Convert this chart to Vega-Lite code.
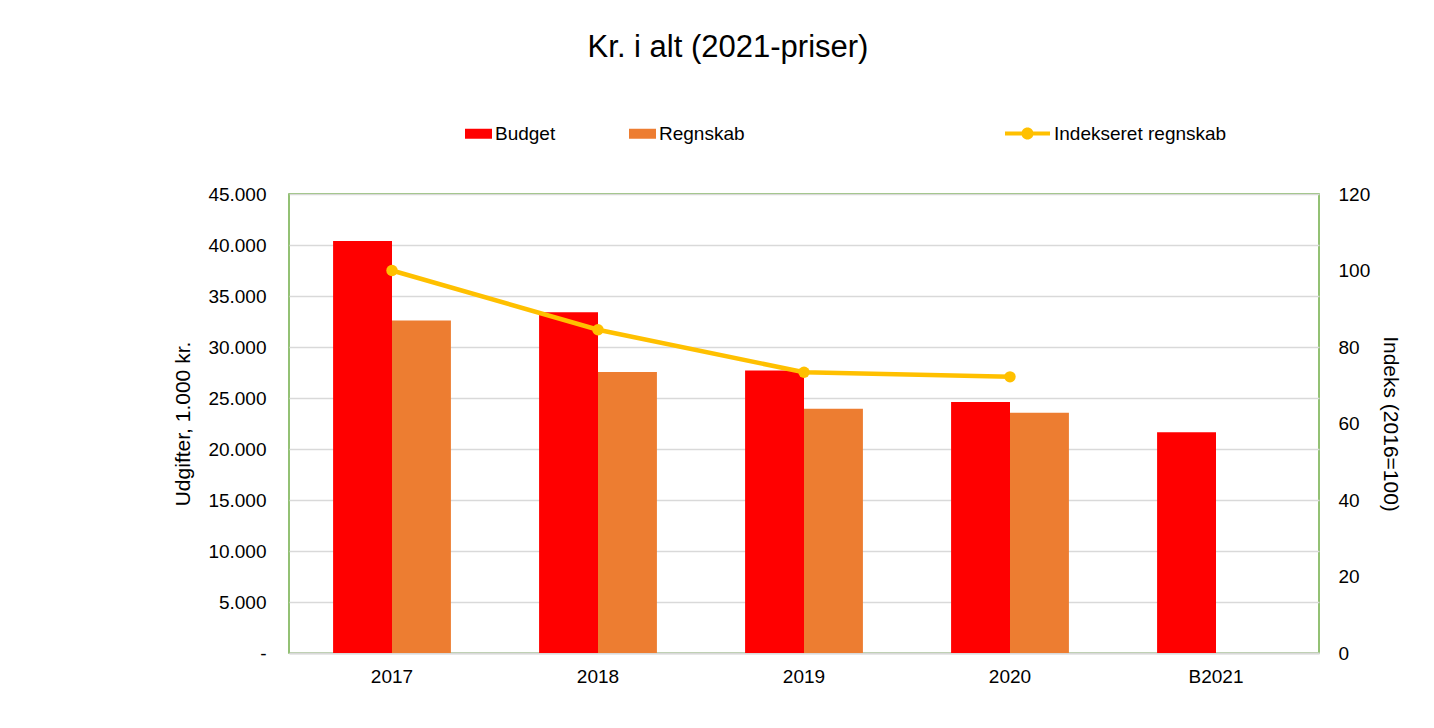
{
  "$schema": "https://vega.github.io/schema/vega-lite/v6.json",
  "width": 1030,
  "height": 459,
  "autosize": {"type": "none"},
  "padding": {"left": 289, "top": 194, "right": 115, "bottom": 75},
  "background": "white",
  "view": {"stroke": "#70AD47", "strokeWidth": 1.5},
  "title": {"text": "Kr. i alt (2021-priser)", "fontSize": 31, "font": "Liberation Sans", "fontWeight": "normal", "color": "#000000", "anchor": "middle", "dx": -76, "offset": 47},
  "config": {
    "font": "Liberation Sans",
    "view": {"stroke": "#70AD47", "strokeWidth": 1.5},
    "axis": {"labelFont": "Liberation Sans", "labelFontSize": 19, "labelColor": "#000000", "titleFont": "Liberation Sans", "titleFontSize": 21, "titleFontWeight": "normal", "titleColor": "#000000", "ticks": false, "domain": false, "grid": false}
  },
  "datasets": {
    "bars": [
      {"aar": "2017", "serie": "Budget", "udg": 40400},
      {"aar": "2017", "serie": "Regnskab", "udg": 32600},
      {"aar": "2018", "serie": "Budget", "udg": 33400},
      {"aar": "2018", "serie": "Regnskab", "udg": 27550},
      {"aar": "2019", "serie": "Budget", "udg": 27700},
      {"aar": "2019", "serie": "Regnskab", "udg": 23950},
      {"aar": "2020", "serie": "Budget", "udg": 24600},
      {"aar": "2020", "serie": "Regnskab", "udg": 23550},
      {"aar": "B2021", "serie": "Budget", "udg": 21650}
    ],
    "indeks": [
      {"aar": "2017", "indeks": 100},
      {"aar": "2018", "indeks": 84.5},
      {"aar": "2019", "indeks": 73.4},
      {"aar": "2020", "indeks": 72.2}
    ]
  },
  "layer": [
    {
      "data": {"name": "bars"},
      "mark": {"type": "bar"},
      "encoding": {
        "x": {"field": "aar", "type": "nominal", "sort": ["2017", "2018", "2019", "2020", "B2021"], "scale": {"paddingInner": 0.428, "paddingOuter": 0.214}, "axis": {"title": null, "labelAngle": 0, "domain": true, "domainColor": "#D9D9D9", "domainWidth": 2, "labelPadding": 14}},
        "xOffset": {"field": "serie", "type": "nominal", "sort": ["Budget", "Regnskab"], "scale": {"paddingInner": 0, "paddingOuter": 0}},
        "y": {"field": "udg", "type": "quantitative", "scale": {"domain": [0, 45000], "nice": false}, "axis": {"title": "Udgifter, 1.000 kr.", "values": [0, 5000, 10000, 15000, 20000, 25000, 30000, 35000, 40000, 45000], "grid": true, "gridColor": "#D9D9D9", "gridWidth": 1.5, "labelPadding": 23, "titlePadding": 14, "labelExpr": "datum.value == 0 ? '-' : replace(format(datum.value, ','), ',', '.')", "encode": {"labels": {"update": {"dx": {"signal": "datum.value == 0 ? -10 : 0"}}}}}},
        "color": {"field": "serie", "type": "nominal", "scale": {"domain": ["Budget", "Regnskab"], "range": ["#FF0000", "#ED7D31"]}, "legend": {"orient": "none", "legendX": 176, "legendY": -74, "direction": "horizontal", "title": null, "symbolType": "M-1,-0.37H1V0.37H-1Z", "symbolSize": 729, "symbolStrokeWidth": 0, "labelFont": "Liberation Sans", "labelFontSize": 19, "labelColor": "#000000", "columnPadding": 73, "labelOffset": 3, "padding": 0}}
      }
    },
    {
      "data": {"name": "indeks"},
      "mark": {"type": "line", "strokeWidth": 4.5, "point": {"filled": true, "size": 130}},
      "encoding": {
        "x": {"field": "aar", "type": "nominal", "sort": ["2017", "2018", "2019", "2020", "B2021"]},
        "y": {"field": "indeks", "type": "quantitative", "scale": {"domain": [0, 120], "nice": false}, "axis": {"orient": "right", "title": "Indeks (2016=100)", "values": [0, 20, 40, 60, 80, 100, 120], "labelPadding": 19, "titlePadding": 10}},
        "color": {"datum": "Indekseret regnskab", "type": "nominal", "scale": {"domain": ["Indekseret regnskab"], "range": ["#FFC000"]}, "legend": {"orient": "none", "legendX": 716, "legendY": -83, "direction": "horizontal", "title": null, "symbolType": "M-1,-0.09H1V0.09H-1Z M0.27,0A0.27,0.27 0 1,1 -0.27,0A0.27,0.27 0 1,1 0.27,0Z", "symbolSize": 2025, "symbolFillColor": "#FFC000", "symbolStrokeWidth": 0, "labelFont": "Liberation Sans", "labelFontSize": 19, "labelColor": "#000000", "labelOffset": 4, "labelLimit": 400, "padding": 0, "encode": {"symbols": {"update": {"fill": {"value": "#FFC000"}, "stroke": {"value": "transparent"}, "strokeWidth": {"value": 0}}}}}}
      }
    }
  ],
  "resolve": {"scale": {"y": "independent", "color": "independent"}}
}
